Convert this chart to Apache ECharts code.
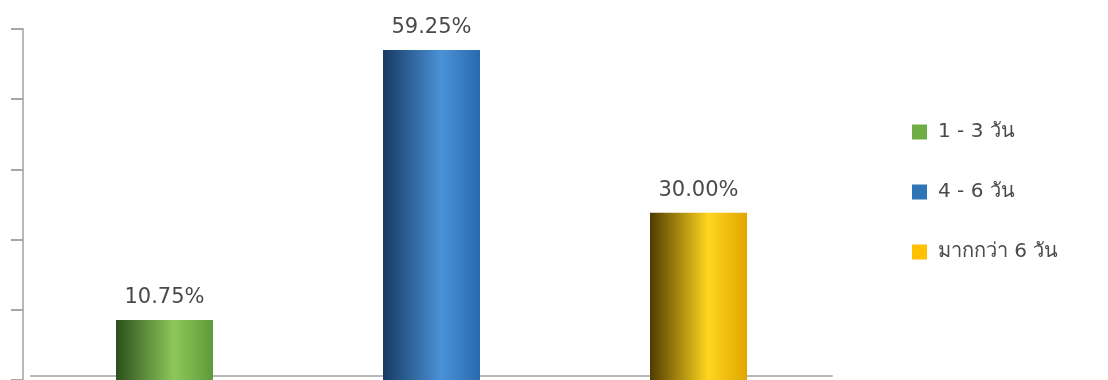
<!DOCTYPE html>
<html>
<head>
<meta charset="utf-8">
<script src="https://cdn.jsdelivr.net/npm/echarts@6/dist/echarts.min.js"></script>
<style>
  html, body { margin: 0; padding: 0; background: #fff; }
  #chart { width: 1108px; height: 380px; }
</style>
</head>
<body>
<div id="chart"></div>
<script>
// ข้อมูล
var categories = ['1 - 3 วัน', '4 - 6 วัน', 'มากกว่า 6 วัน'];
var values = [10.75, 59.25, 30.00];
var legendColors = ['#70ad47', '#2e75b6', '#ffc000'];
// ไล่สีทรงกระบอก: ซ้ายเข้ม กลางสว่าง ขวากลาง
var barShades = [
    ['#2c4f1c', '#8cc85a', '#5f9a3a'],
    ['#173a63', '#4a91d8', '#2a6aad'],
    ['#4f3c00', '#ffd51f', '#e0a600']
];

var chart = echarts.init(document.getElementById('chart'));

var series = categories.map(function (name, i) {
    var data = categories.map(function (c, j) { return j === i ? values[i] : null; });
    return {
        name: name,
        type: 'bar',
        barWidth: 97,
        barGap: '-100%',
        data: data,
        itemStyle: {
            color: {
                type: 'linear', x: 0, y: 0, x2: 1, y2: 0,
                colorStops: [
                    {offset: 0, color: barShades[i][0]},
                    {offset: 0.6, color: barShades[i][1]},
                    {offset: 1, color: barShades[i][2]}
                ]
            }
        },
        label: {
            show: true,
            position: 'top',
            distance: 12,
            fontFamily: 'DejaVu Sans',
            fontSize: 21,
            color: '#4a4a4a',
            formatter: function (p) { return p.value.toFixed(2) + '%'; }
        }
    };
});

var option = {
    animation: false,
    grid: { left: 31, top: 29, width: 801, height: 352 },
    legend: {
        orient: 'vertical',
        left: 907,
        top: 117,
        icon: 'rect',
        itemWidth: 15,
        itemHeight: 15,
        itemGap: 40,
        textStyle: {
            fontFamily: 'DejaVu Sans, Noto Sans, sans-serif',
            fontSize: 20,
            color: '#4a4a4a',
            padding: [0, 0, 0, 6]
        },
        data: categories.map(function (c, i) {
            return { name: c, itemStyle: { color: legendColors[i] } };
        })
    },
    xAxis: {
        type: 'category',
        data: categories,
        offset: -4,
        axisLine: { lineStyle: { color: '#b8b8b8', width: 2 } },
        axisTick: { show: false },
        axisLabel: { show: false }
    },
    yAxis: {
        type: 'value',
        min: 0,
        max: 63,
        interval: 12.6,
        offset: 8,
        axisLine: { show: true, lineStyle: { color: '#b8b8b8', width: 2 } },
        axisTick: { show: true, length: 12, lineStyle: { color: '#a6a6a6', width: 2 } },
        axisLabel: { show: false },
        splitLine: { show: false }
    },
    series: series
};

chart.setOption(option);
</script>
</body>
</html>
